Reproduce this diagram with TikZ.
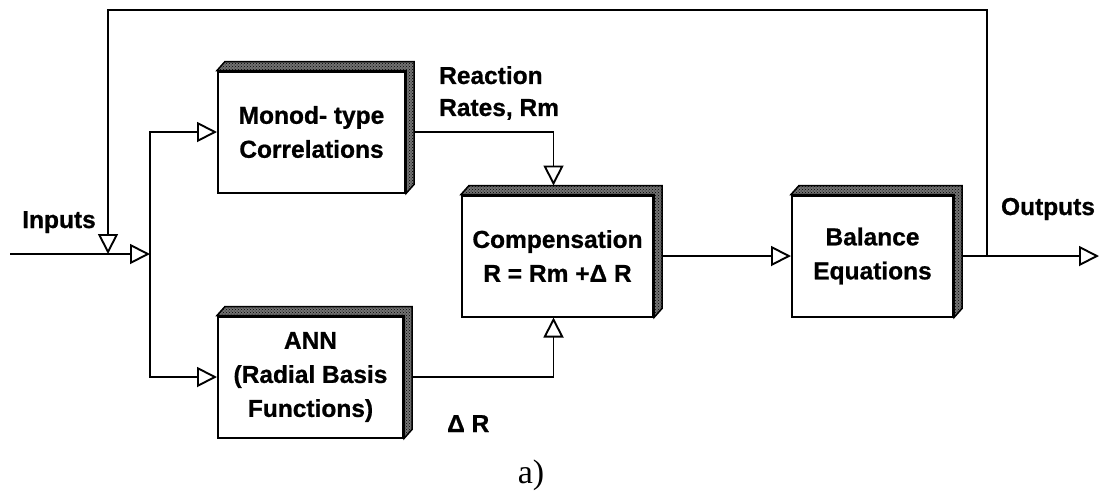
\documentclass[tikz,border=0pt]{standalone}
\usepackage{fontspec}
\setmainfont{Liberation Serif}
\newfontfamily\blockfont{Liberation Sans}[BoldFeatures={FakeBold=0.8}]
\usetikzlibrary{arrows.meta,calc,patterns}

% stippled top and right faces of a raised block
\newcommand{\boxdepth}[1]{%
  \draw[depth] (#1.north west) -- ++(8,-9) -- ($(#1.north east)+(8,-9)$)
    -- ($(#1.south east)+(8,-9)$) -- (#1.south east) -- (#1.north east) -- cycle;}

\begin{document}
\begin{tikzpicture}[
  x=1pt,y=-1pt,
  block/.style={draw,line width=2pt,fill=white,align=center,inner sep=0pt,minimum height=121pt,
    font=\blockfont\bfseries\fontsize{24.5}{34}\selectfont},
  depth/.style={line width=1.5pt,pattern=crosshatch dots,preaction={fill=black!55}},
  flow/.style={-{Triangle[open,length=20pt,width=20pt]},line width=1.9pt},
  lbl/.style={font=\blockfont\bfseries\fontsize{24.5}{32}\selectfont,inner sep=0pt}
]
\useasboundingbox (0,0) rectangle (1101,491);

\node[block,minimum width=187pt] (monod) at (311.5,132) {Monod- type\\Correlations};
\node[block,minimum width=185pt] (ann) at (310.5,377) {ANN\\(Radial Basis\\Functions)};
\node[block,minimum width=191pt] (comp) at (557.5,256) {Compensation\\R = Rm +Δ R};
\node[block,minimum width=161pt] (bal) at (872.5,256) {Balance\\Equations};
\foreach \b in {monod,ann,comp,bal} \boxdepth{\b};

\coordinate (in) at (10,254);
\coordinate (split) at (150,254);
\coordinate (fb) at (108,10);
\coordinate (tap) at (987,256);
\coordinate (out) at (1099,256);

\draw[flow] (in) -- (split);
\draw[flow] (split) |- (monod.west);
\draw[flow] (split) |- (ann.west);
\draw[flow] ([xshift=8pt]monod.east) -| ([xshift=-4pt,yshift=9pt]comp.north);
\draw[flow] ([xshift=8pt]ann.east) -| ([xshift=-4pt]comp.south);
\draw[flow] ([xshift=8pt]comp.east) -- (bal.west);
\draw[flow] ([xshift=8pt]bal.east) -- (out);
\draw[flow] (tap) |- (fb) -- (fb |- in);

\node[lbl,anchor=base] (inputs) at (59,228) {Inputs};
\node[lbl,anchor=base] (outputs) at (1048,215) {Outputs};
\node[lbl,anchor=north west,align=left] (rates) at (439,66) {Reaction\\Rates, Rm};
\node[lbl,anchor=base west] (dr) at (447,432) {Δ R};
\node[anchor=base,inner sep=0pt,font=\fontsize{34}{38}\selectfont] (tag) at (531,483) {a)};
\end{tikzpicture}
\end{document}
